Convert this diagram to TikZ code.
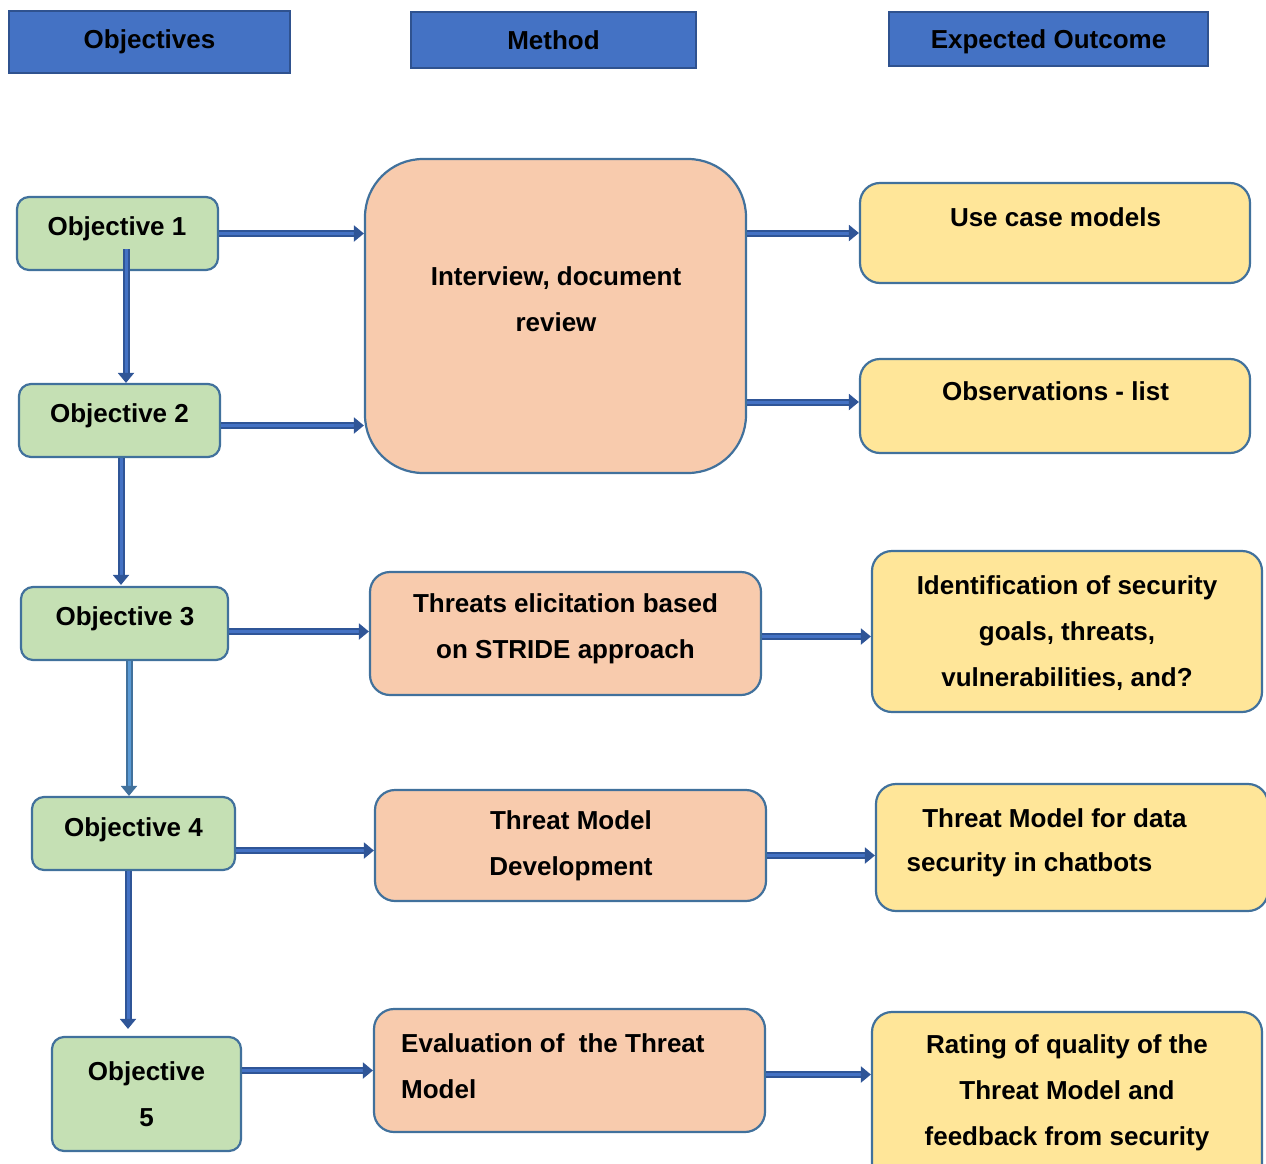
\documentclass[tikz,border=0pt]{standalone}
\usepackage{fontspec}
\setmainfont{Liberation Sans}
\usetikzlibrary{arrows.meta}
\definecolor{hdrfill}{HTML}{4472C4}
\definecolor{hdredge}{HTML}{2F528F}
\definecolor{edge}{HTML}{41719C}
\definecolor{objfill}{HTML}{C5E0B4}
\definecolor{methfill}{HTML}{F8CBAD}
\definecolor{outfill}{HTML}{FFE699}
\definecolor{arrdark}{HTML}{2F5597}
\definecolor{arrlight}{HTML}{4472C4}
\definecolor{arrpale}{HTML}{5B9BD5}
\begin{document}
\begin{tikzpicture}[x=1pt,y=-1pt,
  lbl/.style={font=\fontsize{26}{46}\selectfont\bfseries, inner sep=0pt, align=center},
  hdr/.style={lbl, draw=hdredge, fill=hdrfill, line width=2.5pt},
  box/.style={draw=edge, line width=2.2pt, rounded corners=#1, inner sep=0pt},
  box/.default=12pt,
  objbox/.style={box=12pt, fill=objfill},
  methbox/.style={box=#1, fill=methfill},
  methbox/.default=20pt,
  outbox/.style={box=20pt, fill=outfill},
  flow/.style={draw=arrdark, line width=2pt, double=arrlight, double distance=3pt,
    -{Triangle[length=10pt,width=16pt]}},
  paleflow/.style={flow, draw=edge, double=arrpale}
]
\useasboundingbox (0,0) rectangle (1266,1164);

% column headers
\node[hdr, minimum width=281pt, minimum height=62pt] (hobj) at (149.5,42) {Objectives};
\node[hdr, minimum width=285pt, minimum height=56pt] (hmeth) at (553.5,40) {Method};
\node[hdr, minimum width=319pt, minimum height=54pt, text depth=0pt] (hout) at (1048.5,39) {Expected Outcome};

% objectives
\node[objbox, minimum width=201pt, minimum height=73pt] (o1) at (117.5,233.5) {};
\node[objbox, minimum width=201pt, minimum height=73pt] (o2) at (119.5,420.5) {};
\node[objbox, minimum width=207pt, minimum height=73pt] (o3) at (124.5,623.5) {};
\node[objbox, minimum width=203pt, minimum height=73pt] (o4) at (133.5,833.5) {};
\node[objbox, minimum width=189pt, minimum height=114pt] (o5) at (146.5,1094) {};
\node[lbl] (o1t) at (117,229) {Objective 1};
\node[lbl] (o2t) at (119.5,416) {Objective 2};
\node[lbl] (o3t) at (125,619) {Objective 3};
\node[lbl] (o4t) at (133.5,830) {Objective 4};
\node[lbl] (o5t) at (146.5,1094) {Objective\\5};

% methods
\node[methbox=58pt, minimum width=381pt, minimum height=314pt] (intv) at (555.5,316) {};
\node[methbox, minimum width=391pt, minimum height=123pt] (thr) at (565.5,633.5) {};
\node[methbox, minimum width=391pt, minimum height=111pt] (tmd) at (570.5,845.5) {};
\node[methbox, minimum width=391pt, minimum height=123pt] (eval) at (569.5,1070.5) {};
\node[lbl] (intvt) at (556,299) {Interview, document\\review};
\node[lbl] (thrt) at (565.5,629) {Threats elicitation based\\on STRIDE approach};
\node[lbl] (tmdt) at (571,846) {Threat Model\\Development};
\node[lbl, align=left, anchor=west] (evalt) at (401,1066) {Evaluation of~ the Threat\\Model};

% expected outcomes
\node[outbox, minimum width=390pt, minimum height=100pt] (uc) at (1055,233) {};
\node[outbox, minimum width=390pt, minimum height=94pt] (obs) at (1055,406) {};
\node[outbox, minimum width=390pt, minimum height=161pt] (ident) at (1067,631.5) {};
\node[outbox, minimum width=392pt, minimum height=127pt] (tmdata) at (1072,847.5) {};
\node[outbox, minimum width=390pt, minimum height=190pt] (rate) at (1067,1107) {};
\node[lbl] (uct) at (1055.5,217) {Use case models};
\node[lbl] (obst) at (1055.5,391) {Observations - list};
\node[lbl] (identt) at (1067,633) {Identification of security\\goals, threats,\\vulnerabilities, and?};
\node[lbl] (tmdt1) at (1054.5,818) {Threat Model for data};
\node[lbl] (tmdt2) at (1029.5,865) {security in chatbots};
\node[lbl] (ratet) at (1067,1093) {Rating of quality of the\\Threat Model and\\feedback from security};

% arrow start points
\coordinate (s2) at ([yshift=-5pt]o2.east);
\coordinate (s3) at ([yshift=-8pt]o3.east);
\coordinate (s4) at ([yshift=-17pt]o4.east);
\coordinate (sobs) at ([yshift=4pt]obs.west);
\coordinate (sthr) at ([yshift=-3pt]thr.east);
\coordinate (stmd) at ([yshift=-10pt]tmd.east);
\coordinate (seval) at ([yshift=-4pt]eval.east);

% objectives to methods
\draw[flow] (o1.east) -- (intv.west |- o1.east);
\draw[flow] (s2) -- (intv.west |- s2);
\draw[flow] (s3) -- (thr.west |- s3);
\draw[flow] (s4) -- (tmd.west |- s4);
\draw[flow] (o5.east |- eval.west) -- (eval.west);

% methods to outcomes
\draw[flow] (intv.east |- uc.west) -- (uc.west);
\draw[flow] (intv.east |- sobs) -- (sobs);
\draw[flow] (sthr) -- (ident.west |- sthr);
\draw[flow] (stmd) -- (tmdata.west |- stmd);
\draw[flow] (seval) -- (rate.west |- seval);

% chain of objectives
\draw[flow] ([xshift=8.5pt,yshift=22pt]o1.south) -- ([xshift=6.5pt]o2.north);
\draw[flow] ([xshift=1.5pt]o2.south) -- ([xshift=-3.5pt,yshift=1pt]o3.north);
\draw[paleflow] ([xshift=4.5pt]o3.south) -- ([xshift=-4.5pt]o4.north);
\draw[flow] ([xshift=-5.5pt]o4.south) -- ([xshift=-18.5pt,yshift=7pt]o5.north);
\end{tikzpicture}
\end{document}
